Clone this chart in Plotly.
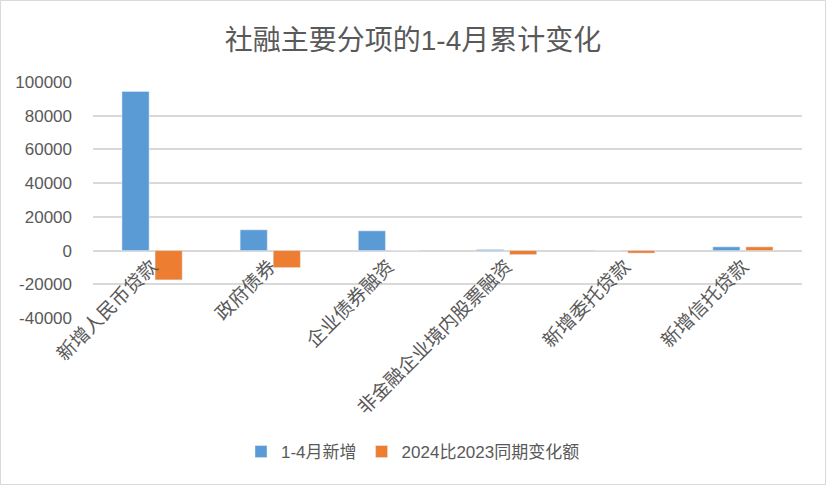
import plotly.graph_objects as go

# --- Data ---
categories = ["新增人民币贷款", "政府债券", "企业债券融资", "非金融企业境内股票融资", "新增委托贷款", "新增信托贷款"]
new_jan_apr = [94400, 12300, 11700, 600, 0, 2200]
yoy_change = [-17400, -10100, 0, -2400, -1500, 2200]
series_names = ["1-4月新增", "2024比2023同期变化额"]

y_ticks = [-40000, -20000, 0, 20000, 40000, 60000, 80000, 100000]
y_tick_labels = ["-40000", "-20000", "0", "20000", "40000", "60000", "80000", "100000"]

BLUE = "#5B9BD5"
ORANGE = "#ED7D31"
TEXT = "#595959"
GRID = "#D9D9D9"
FONT = "Liberation Sans, Noto Sans CJK SC, sans-serif"

fig = go.Figure()
fig.add_trace(go.Bar(x=categories, y=new_jan_apr, name=series_names[0], marker_color=BLUE))
fig.add_trace(go.Bar(x=categories, y=yoy_change, name=series_names[1], marker_color=ORANGE))

# plot area: x 93..802, y 82..318 (px)
L, R, T, B = 93, 24, 82, 167
W, H = 826, 485
pw, ph = W - L - R, H - T - B

fig.update_layout(
    width=W, height=H,
    margin=dict(l=L, r=R, t=T, b=B, autoexpand=False),
    paper_bgcolor="white",
    plot_bgcolor="white",
    font=dict(family=FONT, color=TEXT),
    barmode="group",
    bargap=0.44,
    bargroupgap=0.18,
    title=dict(
        text="社融主要分项的1-4月累计变化",
        x=0.5, xref="container", xanchor="center",
        y=1 - 40 / H, yanchor="middle",
        font=dict(size=28, color=TEXT),
    ),
    legend=dict(
        orientation="h",
        x=0.5, xref="container", xanchor="center",
        y=1 - 452 / H, yref="container", yanchor="middle",
        font=dict(size=17, color=TEXT),
        itemwidth=30,
        traceorder="normal",
    ),
    showlegend=True,
)

fig.update_yaxes(
    range=[-40000, 100000],
    tickvals=y_ticks,
    ticktext=y_tick_labels,
    showgrid=True, gridcolor=GRID, gridwidth=1.5,
    zeroline=True, zerolinecolor=GRID, zerolinewidth=1.5,
    showline=False,
    ticks="",
    ticklabelstandoff=20,
    tickfont=dict(size=17, color=TEXT),
    automargin=False,
)

# category axis sits on the zero line, like in Excel
zero_pos = (0 - (-40000)) / (100000 - (-40000))
fig.update_xaxes(
    anchor="free",
    position=zero_pos,
    showline=False,
    showgrid=False,
    ticks="",
    tickangle=-45,
    tickfont=dict(size=19, color=TEXT),
    automargin=False,
)

# outer chart border
fig.add_shape(
    type="rect", xref="paper", yref="paper",
    x0=-(L - 0.5) / pw, x1=(W - L - 0.5) / pw,
    y0=-(B - 0.5) / ph, y1=(H - B - 0.5) / ph,
    line=dict(color=GRID, width=1),
    fillcolor="rgba(0,0,0,0)",
)

fig.write_html(
    "out.html",
    config={"displayModeBar": False},
    post_script="document.body.style.margin='0px';",
)
